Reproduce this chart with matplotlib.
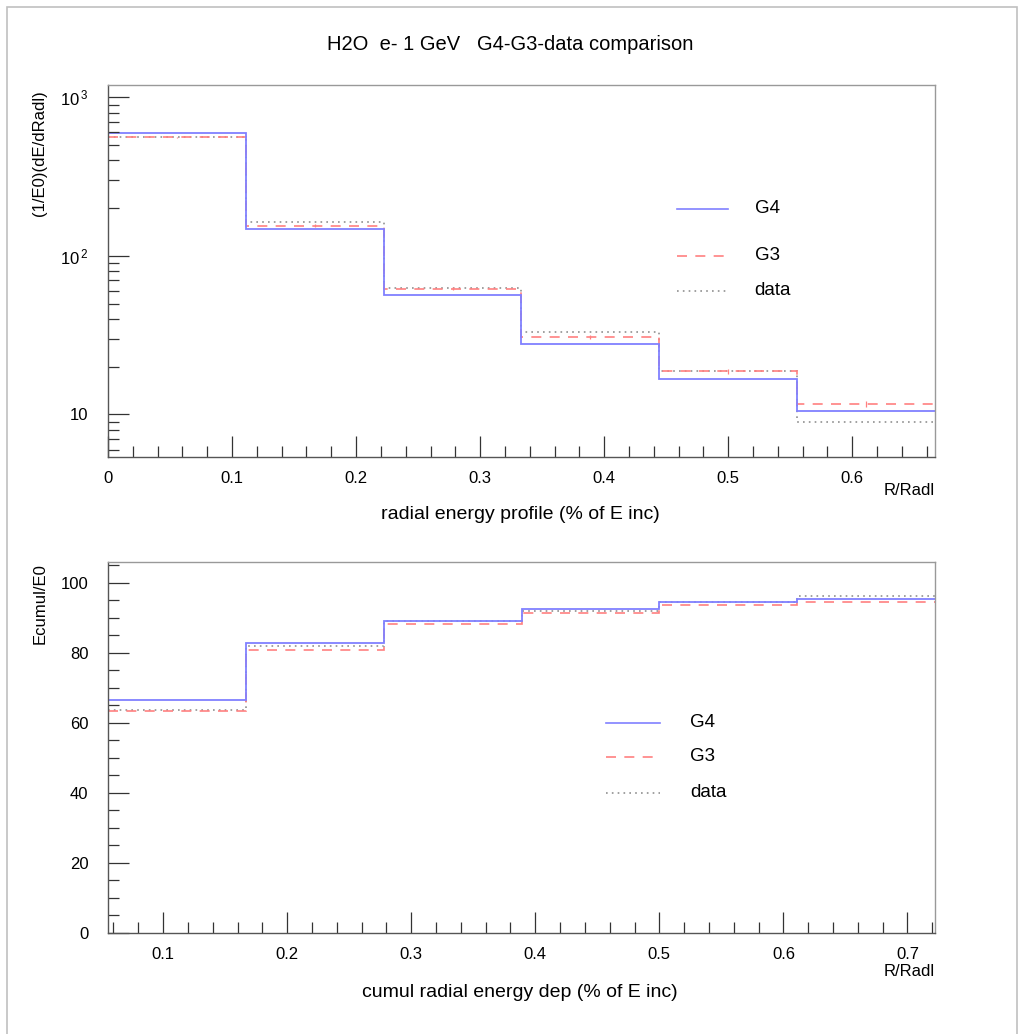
import numpy as np
import matplotlib
matplotlib.use('Agg')
import matplotlib.pyplot as plt
from matplotlib.ticker import FixedLocator, MultipleLocator, FuncFormatter, LogLocator, NullFormatter
from matplotlib.patches import Rectangle

plt.rcParams['font.family'] = ['Liberation Sans', 'DejaVu Sans']
plt.rcParams['mathtext.fontset'] = 'custom'
plt.rcParams['mathtext.rm'] = 'Liberation Sans'
plt.rcParams['mathtext.it'] = 'Liberation Sans'

# radial profile, bins of 1/9 Radl
edges_prof = [0.0, 0.1111, 0.2222, 0.3333, 0.4444, 0.5556, 0.6667]
prof_g4 = [596, 148, 56.3, 27.8, 16.7, 10.5]
prof_g3 = [560, 155, 62.0, 30.9, 18.7, 11.7]
prof_data = [562, 163, 62.5, 32.9, 18.9, 8.9]
prof_g3_err = [6, 3, 1.5, 1.0, 0.6, 0.5]

# cumulative profile
edges_cum = [0.0556, 0.1667, 0.2778, 0.3889, 0.5, 0.6111, 0.7222]
cum_g4 = [66.6, 82.9, 89.1, 92.5, 94.5, 95.4]
cum_g3 = [63.5, 80.9, 88.3, 91.4, 93.5, 94.5]
cum_data = [63.6, 82.0, 89.0, 92.0, 94.5, 96.3]

c_g4 = '#8080ff'
c_g3 = '#ff8080'
c_data = '#909090'
c_axis = '#555555'

fig = plt.figure(figsize=(10.24, 10.34), dpi=100)
fig.patches.append(Rectangle((7/1024, -0.01), 1010/1024, 1 - 7/1034 + 0.01,
                             transform=fig.transFigure, fill=False,
                             edgecolor='#c0c0c0', lw=1.2))

ax1 = fig.add_axes([0.1055, 0.5577, 0.8076, 0.3601])
ax2 = fig.add_axes([0.1055, 0.0977, 0.8076, 0.3591])


def style(ax):
    for s in ax.spines.values():
        s.set_color(c_axis)
        s.set_linewidth(1.0)
    ax.spines['top'].set_color('#999999')
    ax.spines['right'].set_color('#999999')
    ax.tick_params(axis='both', which='both', direction='in', colors='#333333',
                   labelcolor='black', labelsize=12, top=False, right=False)
    ax.tick_params(axis='both', which='major', length=15, width=0.9)
    ax.tick_params(axis='both', which='minor', length=8, width=0.9)
    ax.tick_params(axis='x', pad=10)
    ax.tick_params(axis='y', pad=14)


def legend(ax, x0, x1, xt, ys):
    entries = [('G4', c_g4, '-'), ('G3', c_g3, (0, (6, 5))), ('data', c_data, (0, (1, 2.5)))]
    for (lab, col, ls), y in zip(entries, ys):
        ax.plot([x0, x1], [y, y], color=col, ls=ls, lw=1.2, transform=ax.transAxes)
        ax.text(xt, y, lab, transform=ax.transAxes, va='center', ha='left', fontsize=13.5)


# top panel
ax1.stairs(prof_data, edges_prof, baseline=None, color=c_data, ls=(0, (1, 2.5)), lw=1.2)
ax1.stairs(prof_g3, edges_prof, baseline=None, color=c_g3, ls=(0, (6, 5)), lw=1.2)
ax1.stairs(prof_g4, edges_prof, baseline=None, color=c_g4, lw=1.3)
centers = [(a + b) / 2 for a, b in zip(edges_prof[:-1], edges_prof[1:])]
ax1.errorbar(centers, prof_g3, yerr=prof_g3_err, fmt='none', ecolor=c_g3, elinewidth=0.9)
ax1.set_yscale('log')
ax1.set_xlim(0, 0.6667)
ax1.set_ylim(5.36, 1196)
style(ax1)
ax1.xaxis.set_major_locator(MultipleLocator(0.1))
ax1.xaxis.set_minor_locator(MultipleLocator(0.02))
ax1.xaxis.set_major_formatter(FuncFormatter(lambda v, p: '0' if abs(v) < 1e-9 else '%g' % v))
ax1.yaxis.set_major_locator(FixedLocator([10, 100, 1000]))
ax1.yaxis.set_minor_locator(LogLocator(base=10, subs=np.arange(2, 10)))
ax1.yaxis.set_minor_formatter(NullFormatter())
ax1.yaxis.set_major_formatter(FuncFormatter(
    lambda v, p: '10' if abs(v - 10) < 1e-6 else r'10$^{\,%d}$' % round(np.log10(v))))
legend(ax1, 0.688, 0.750, 0.782, [0.667, 0.541, 0.447])

# bottom panel
ax2.stairs(cum_data, edges_cum, baseline=None, color=c_data, ls=(0, (1, 2.5)), lw=1.2)
ax2.stairs(cum_g3, edges_cum, baseline=None, color=c_g3, ls=(0, (6, 5)), lw=1.2)
ax2.stairs(cum_g4, edges_cum, baseline=None, color=c_g4, lw=1.3)
ax2.set_xlim(0.0556, 0.7222)
ax2.set_ylim(0, 106)
style(ax2)
ax2.xaxis.set_major_locator(MultipleLocator(0.1))
ax2.xaxis.set_minor_locator(MultipleLocator(0.02))
ax2.xaxis.set_major_formatter(FuncFormatter(lambda v, p: '%g' % round(v, 2)))
ax2.yaxis.set_major_locator(MultipleLocator(20))
ax2.yaxis.set_minor_locator(MultipleLocator(5))
legend(ax2, 0.602, 0.667, 0.704, [0.566, 0.474, 0.377])

# texts
fig.text(0.498, 0.957, 'H2O  e- 1 GeV   G4-G3-data comparison', ha='center', va='center', fontsize=14.5)
fig.text(0.039, 0.913, '(1/E0)(dE/dRadl)', rotation=90, ha='center', va='top', fontsize=12)
fig.text(0.039, 0.455, 'Ecumul/E0', rotation=90, ha='center', va='top', fontsize=12)
fig.text(0.508, 0.502, 'radial energy profile (% of E inc)', ha='center', va='center', fontsize=14)
fig.text(0.508, 0.040, 'cumul radial energy dep (% of E inc)', ha='center', va='center', fontsize=14)
fig.text(0.913, 0.526, 'R/Radl', ha='right', va='center', fontsize=12)
fig.text(0.913, 0.060, 'R/Radl', ha='right', va='center', fontsize=12)

fig.savefig('out.png', dpi=100)
